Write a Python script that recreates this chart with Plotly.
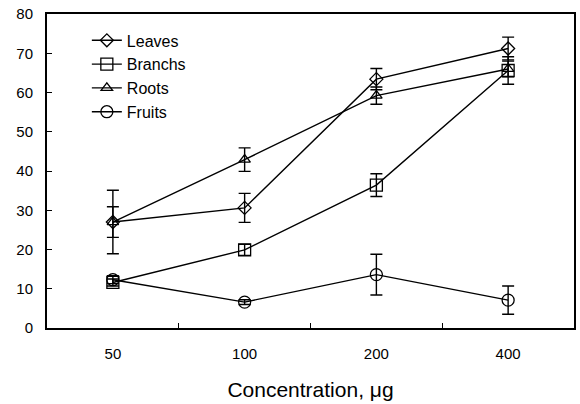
import plotly.graph_objects as go

categories = ["50", "100", "200", "400"]
leaves = [27.0, 30.6, 63.4, 71.2]
leaves_err = [3.9, 3.7, 2.7, 2.9]
branchs = [11.6, 19.9, 36.4, 65.6]
branchs_err = [0.9, 1.4, 2.9, 3.5]
roots = [27.0, 42.9, 59.2, 66.0]
roots_err = [8.1, 3.0, 2.2, 2.0]
fruits = [12.3, 6.6, 13.6, 7.1]
fruits_err = [1.0, 0.6, 5.2, 3.6]

series = [
    ("Leaves", leaves, leaves_err, "diamond-open", 10),
    ("Branchs", branchs, branchs_err, "square-open", 12),
    ("Roots", roots, roots_err, "triangle-up-open", 10),
    ("Fruits", fruits, fruits_err, "circle-open", 12),
]

fig = go.Figure()
for name, vals, errs, sym, sz in series:
    fig.add_trace(go.Scatter(
        x=categories, y=vals, name=name, mode="lines+markers",
        line=dict(color="black", width=1.4),
        marker=dict(symbol=sym, size=sz, color="black", line=dict(color="black", width=1.3)),
        error_y=dict(type="data", array=errs, visible=True, color="black", thickness=1.4, width=6),
    ))

fig.update_layout(
    width=580, height=404,
    margin=dict(l=47, r=4, t=14, b=76),
    paper_bgcolor="white", plot_bgcolor="white",
    font=dict(family="Liberation Sans, Arial, sans-serif", color="black", size=15),
    showlegend=True,
    legend=dict(x=0.0756, y=0.97, xanchor="left", yanchor="top", bgcolor="rgba(0,0,0,0)",
                font=dict(size=16), tracegroupgap=0),
)
fig.update_xaxes(
    type="category", range=[-0.5, 3.5],
    showline=True, linecolor="black", linewidth=2, mirror=True,
    ticks="inside", tickson="boundaries", ticklen=5, tickcolor="black", tickwidth=1.3,
    showgrid=False, zeroline=False, ticklabelstandoff=11,
    title=dict(text="Concentration, μg", font=dict(size=21), standoff=21),
    tickfont=dict(size=15),
)
fig.update_yaxes(
    range=[0, 80], dtick=10,
    showline=True, linecolor="black", linewidth=2, mirror=True,
    ticks="inside", ticklen=5, tickcolor="black", tickwidth=1.3,
    showgrid=False, zeroline=False, tickfont=dict(size=15), ticklabelstandoff=9,
)
fig.write_html("out.html")
